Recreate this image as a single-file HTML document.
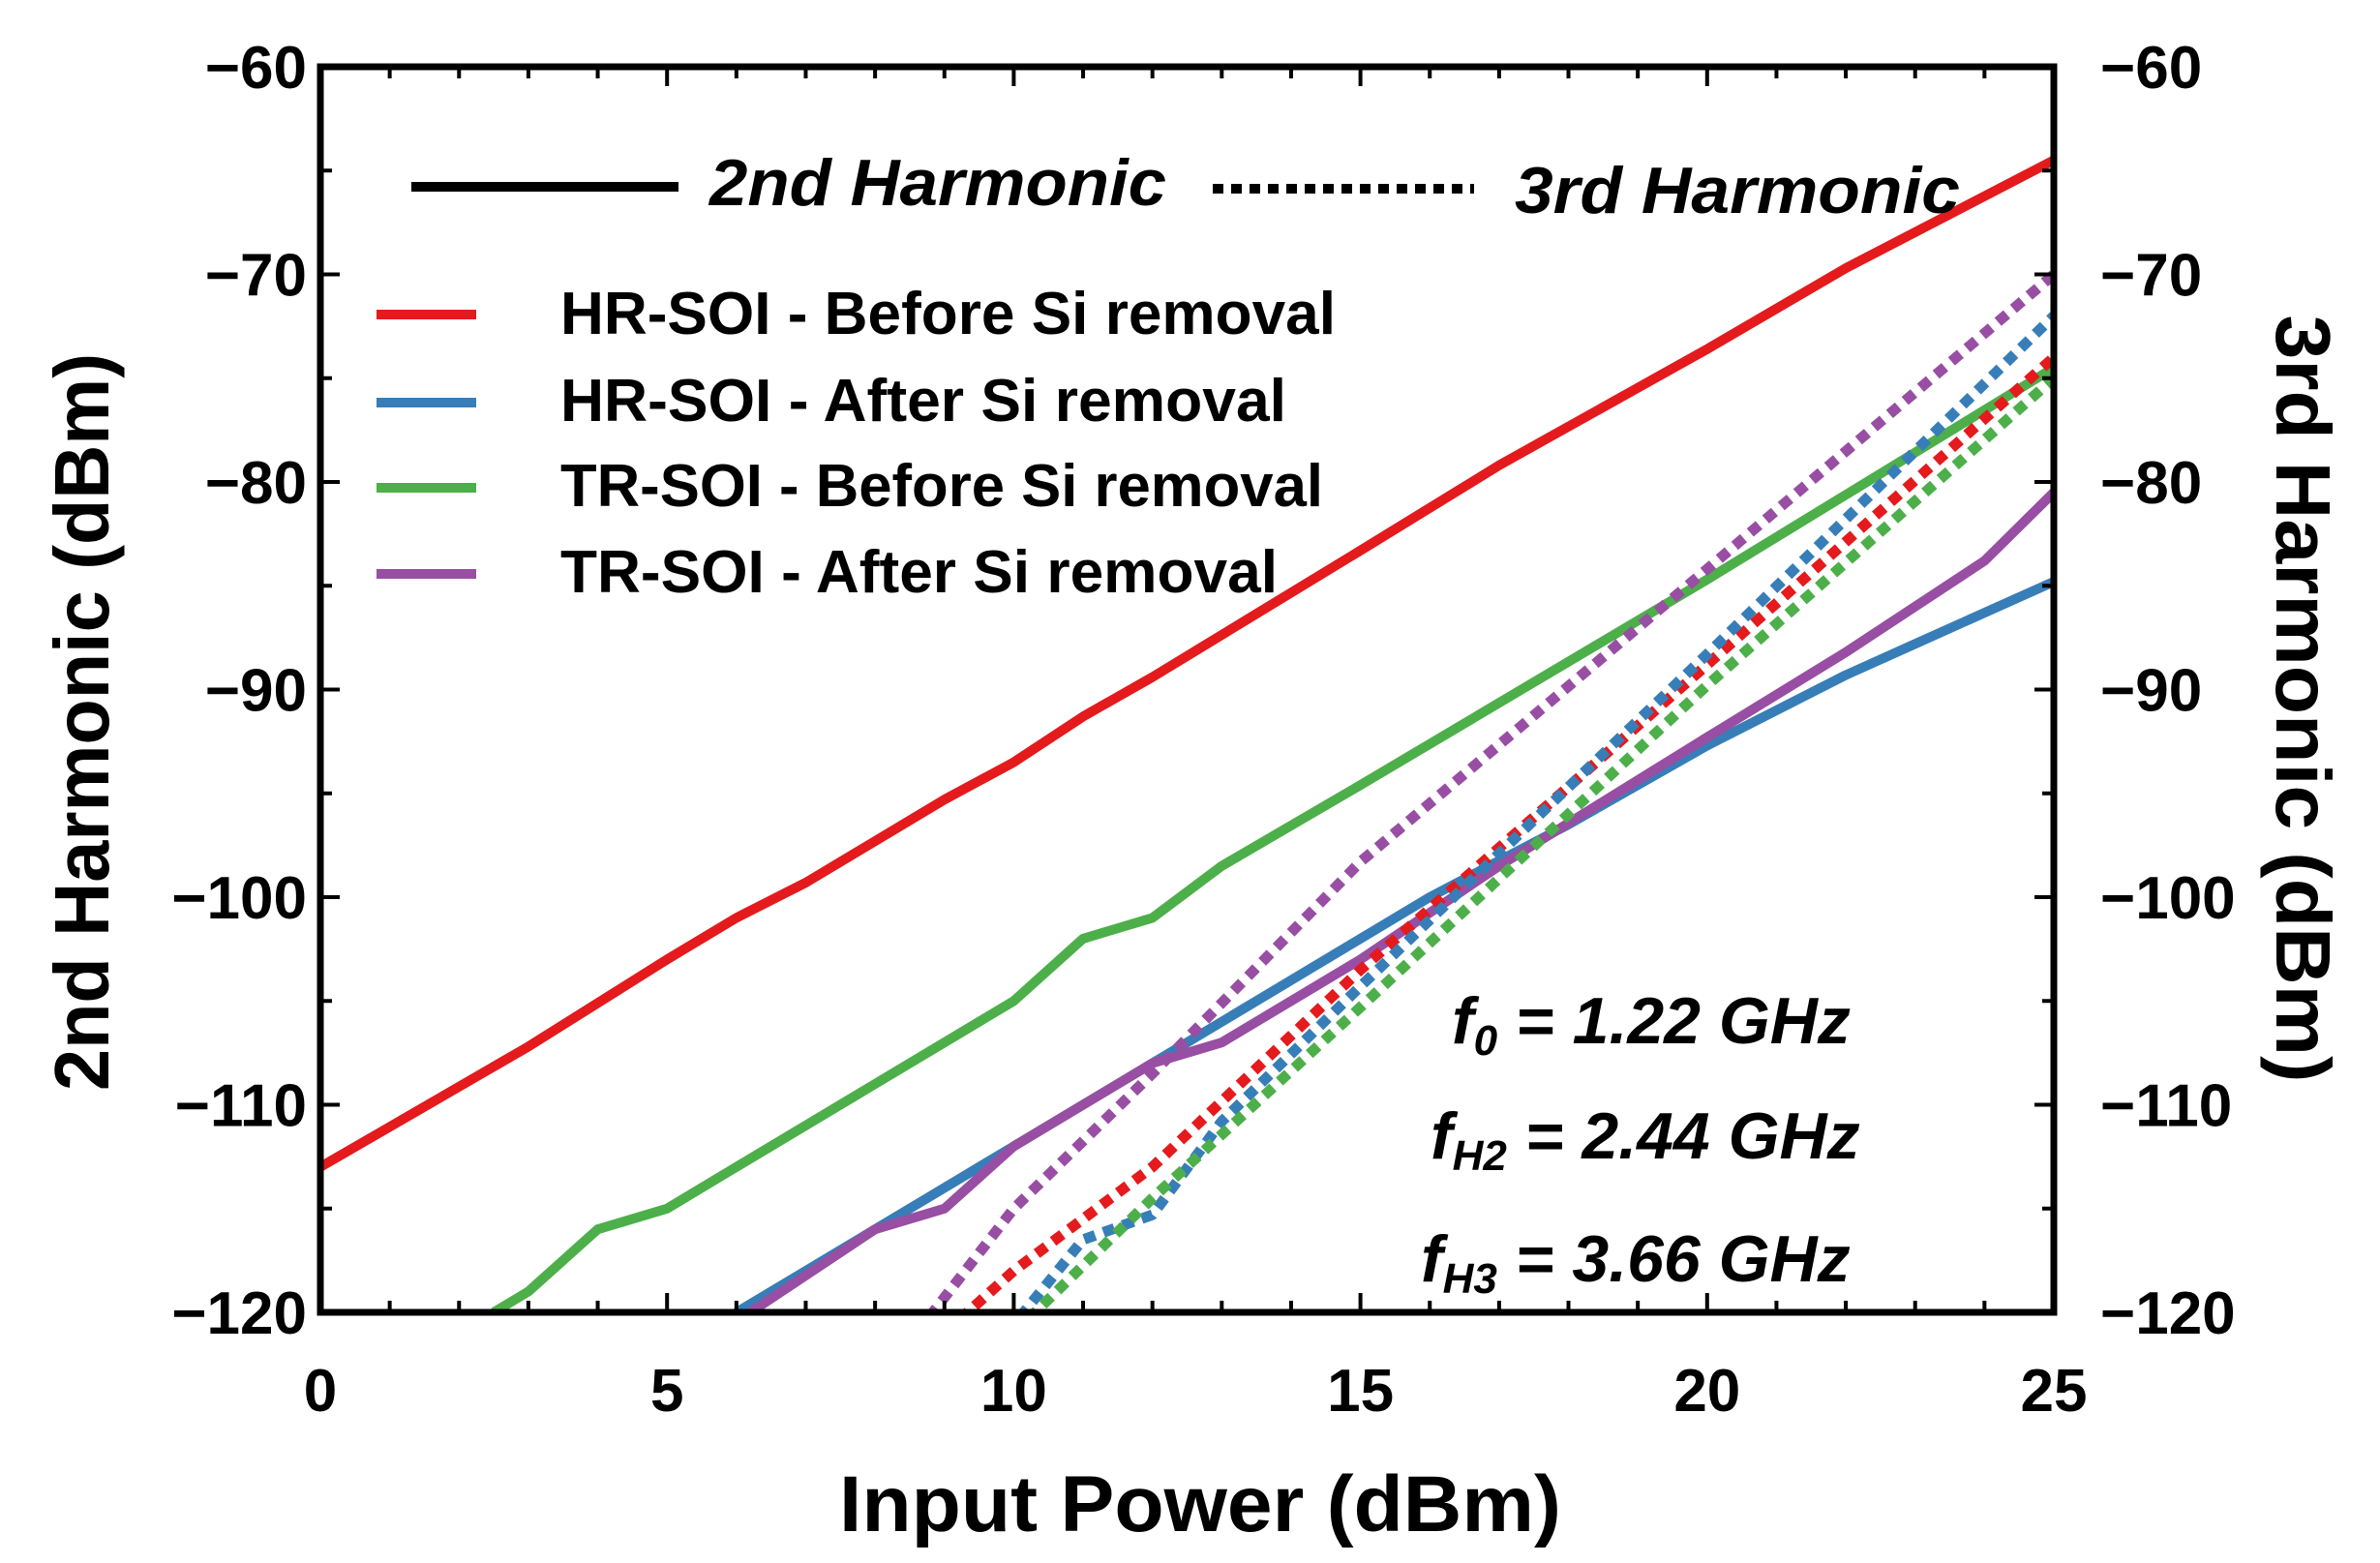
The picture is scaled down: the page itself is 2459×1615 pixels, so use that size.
<!DOCTYPE html>
<html><head><meta charset="utf-8"><style>
html,body{margin:0;padding:0;background:#fff;}
svg{display:block;}
text{font-family:"Liberation Sans",sans-serif;font-weight:bold;fill:#000;}
</style></head><body>
<svg id="s" width="2459" height="1615" viewBox="0 0 2459 1615" xmlns="http://www.w3.org/2000/svg">
<defs><clipPath id="c"><rect x="331" y="69" width="1791" height="1287"/></clipPath></defs>
<g id="data" clip-path="url(#c)"></g>
<g id="ticks" stroke="#000" stroke-width="4"></g>
<rect x="331" y="69" width="1791" height="1287" fill="none" stroke="#000" stroke-width="7"/>
<g id="labels" font-size="62"></g>
<text x="1240" y="1582" font-size="82" text-anchor="middle" textLength="746" lengthAdjust="spacingAndGlyphs">Input Power (dBm)</text>
<text transform="translate(112,746) rotate(-90)" font-size="80" text-anchor="middle" textLength="762" lengthAdjust="spacingAndGlyphs">2nd Harmonic (dBm)</text>
<text transform="translate(2352,722) rotate(90)" font-size="80" text-anchor="middle" textLength="793" lengthAdjust="spacingAndGlyphs">3rd Harmonic (dBm)</text>
<line x1="425" y1="193" x2="701" y2="193" stroke="#000" stroke-width="10"/>
<text x="733" y="212" font-size="68" font-style="italic" textLength="472" lengthAdjust="spacingAndGlyphs">2nd Harmonic</text>
<line x1="1253" y1="195" x2="1523" y2="195" stroke="#000" stroke-width="10" stroke-dasharray="11 8"/>
<text x="1565" y="220" font-size="68" font-style="italic" textLength="460" lengthAdjust="spacingAndGlyphs">3rd Harmonic</text>
<g stroke-width="10">
<line x1="389" y1="325" x2="492" y2="325" stroke="#e41a1c"/>
<line x1="389" y1="416" x2="492" y2="416" stroke="#377eb8"/>
<line x1="389" y1="504" x2="492" y2="504" stroke="#4daf4a"/>
<line x1="389" y1="593" x2="492" y2="593" stroke="#984ea3"/>
</g>
<g font-size="62">
<text x="579" y="345" textLength="801" lengthAdjust="spacingAndGlyphs">HR-SOI - Before Si removal</text>
<text x="579" y="435" textLength="750" lengthAdjust="spacingAndGlyphs">HR-SOI - After Si removal</text>
<text x="579" y="523" textLength="788" lengthAdjust="spacingAndGlyphs">TR-SOI - Before Si removal</text>
<text x="579" y="612" textLength="741" lengthAdjust="spacingAndGlyphs">TR-SOI - After Si removal</text>
</g>
<g font-size="68" font-style="italic">
<text x="1500" y="1078">f<tspan font-size="44" dy="12">0</tspan><tspan dy="-12"> = 1.22 GHz</tspan></text>
<text x="1478" y="1197">f<tspan font-size="44" dy="12">H2</tspan><tspan dy="-12"> = 2.44 GHz</tspan></text>
<text x="1468" y="1324">f<tspan font-size="44" dy="12">H3</tspan><tspan dy="-12"> = 3.66 GHz</tspan></text>
</g>
</svg>
<script>
var NS="http://www.w3.org/2000/svg";
function X(x){return 331+x*71.64;}
function Y(y){return 69+(-60-y)*21.45;}
function el(p,n,a,t){var e=document.createElementNS(NS,n);for(var k in a)e.setAttribute(k,a[k]);if(t!==undefined)e.textContent=t;p.appendChild(e);return e;}
var d=document.getElementById('data');
var S=[
["#e41a1c",0,[[0,-113],[3,-107.2],[5,-103],[6,-101],[7,-99.3],[9,-95.3],[10,-93.5],[11,-91.3],[12,-89.4],[15,-83.3],[17,-79.2],[20,-73.6],[22,-69.7],[25,-64.5]]],
["#4daf4a",0,[[2.5,-120],[3,-119],[4,-116],[5,-115],[6,-113],[10,-105],[11,-102],[12,-101],[13,-98.5],[15,-94.6],[20,-84.7],[25,-74.5]]],
["#377eb8",0,[[6,-120],[8,-116],[9,-114],[10,-112],[12,-108],[14,-104],[16,-100],[18,-96.5],[20,-92.7],[22,-89.3],[23,-87.8],[25,-84.8]]],
["#984ea3",0,[[6.2,-120],[8,-116],[9,-115],[10,-112],[12,-108],[13,-107],[15,-103],[17,-98.5],[20,-92.3],[22,-88.2],[24,-83.8],[25,-80.5]]],
["#984ea3",1,[[8.6,-121],[10,-115],[12,-108.5],[15,-98.3],[20,-84.2],[25,-70]]],
["#e41a1c",1,[[9.0,-121],[10,-118],[12,-113],[15,-103.5],[20,-88.8],[25,-74]]],
["#377eb8",1,[[9.9,-121],[11,-116.5],[12,-115.3],[13,-110.8],[15,-104.3],[20,-88.3],[25,-72]]],
["#4daf4a",1,[[10,-121],[12,-114.5],[15,-105.3],[20,-89.8],[25,-75]]]
];
S.forEach(function(s){
 var pts=s[2].map(function(p){return X(p[0]).toFixed(1)+","+Y(p[1]).toFixed(1);}).join(" ");
 var a={points:pts,fill:"none",stroke:s[0],"stroke-width":s[1]?11:10,"stroke-linejoin":"round"};
 if(s[1])a["stroke-dasharray"]="12 9";
 el(d,"polyline",a);
});
var t=document.getElementById('ticks'),L=document.getElementById('labels');
for(var i=0;i<=25;i++){
 var len=(i%5==0)?20:12,x=X(i);
 el(t,"line",{x1:x,y1:1356,x2:x,y2:1356-len});
 el(t,"line",{x1:x,y1:69,x2:x,y2:69+len});
 if(i%5==0)el(L,"text",{x:x,y:1458,"text-anchor":"middle"},String(i));
}
for(var v=-60;v>=-120;v-=5){
 var len=(v%10==0)?20:12,y=Y(v);
 el(t,"line",{x1:331,y1:y,x2:331+len,y2:y});
 el(t,"line",{x1:2122,y1:y,x2:2122-len,y2:y});
 if(v%10==0){
  var lab="\u2212"+(-v);
  el(L,"text",{x:317,y:y+22,"text-anchor":"end"},lab);
  el(L,"text",{x:2170,y:y+22,"text-anchor":"start"},lab);
 }
}
</script>
</body></html>
